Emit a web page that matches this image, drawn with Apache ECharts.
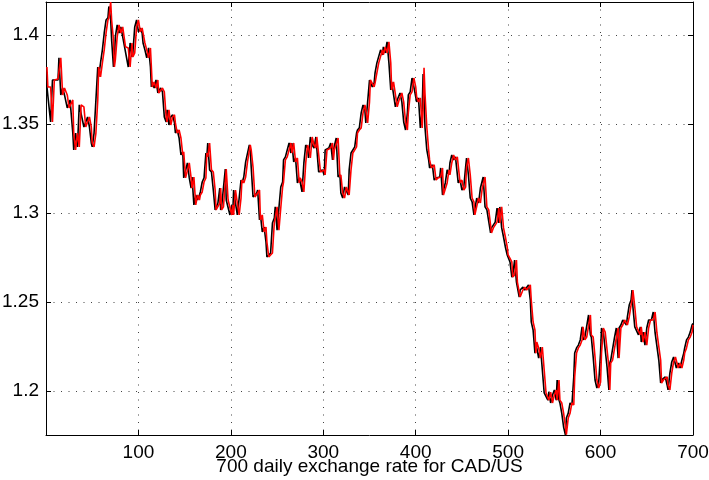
<!DOCTYPE html>
<html>
<head>
<meta charset="utf-8">
<script src="https://cdn.jsdelivr.net/npm/echarts@6/dist/echarts.min.js"></script>
<style>
html,body{margin:0;padding:0;background:#fff;}
#chart{width:709px;height:480px;}
</style>
</head>
<body>
<div id="chart"></div>
<script>
// Day index of each sample
var days = [1,2,5,7,9,13,14,16,18,20,23,25,26,29,30,32,34,36,38,41,43,45,47,49,50,52,54,56,57,59,
61,63,65,67,68,70,71,73,74,75,77,79,81,83,85,86,89,91,93,94,96,98,100,102,104,105,107,109,111,113,
114,115,117,119,121,122,124,126,128,130,131,133,135,137,139,140,142,144,146,148,149,151,153,155,157,158,160,162,164,166,
167,169,171,173,174,175,177,179,181,183,184,186,188,189,190,192,194,195,197,199,201,202,203,205,207,209,211,212,214,216,
218,220,221,222,224,226,228,229,231,232,234,236,238,239,241,243,245,247,248,250,252,254,256,257,259,261,263,265,266,268,
270,272,274,275,277,279,281,283,284,286,288,290,292,293,295,297,299,301,302,304,306,308,310,311,312,314,316,318,319,321,
323,325,327,328,330,332,334,336,337,339,341,343,345,346,348,350,351,353,355,356,358,360,362,364,365,367,369,371,373,374,
376,378,380,382,383,385,387,389,391,392,394,396,398,400,401,403,405,407,408,409,410,412,414,415,417,418,420,422,424,426,
427,429,430,432,434,436,437,439,441,443,445,446,448,450,452,454,455,457,459,461,463,464,466,468,470,472,473,475,477,479,
481,482,484,486,488,490,491,493,495,497,499,500,502,504,505,507,509,510,512,513,516,518,520,522,524,525,527,529,530,531,
533,535,537,539,541,543,544,546,548,550,552,553,555,556,558,560,562,563,565,567,569,571,572,574,576,578,580,581,583,585,
587,589,590,592,594,596,598,600,601,603,605,607,609,610,611,613,615,617,619,620,622,624,626,628,629,631,633,634,635,637,
639,641,643,644,646,648,650,652,654,655,657,659,661,663,665,666,668,670,672,673,675,677,679,681,682,684,686,688,690,691,
693,695,697,699,700];

// Predicted rate (red)
var predicted = [1.3820,1.3708,1.3708,1.3511,1.3747,1.3753,1.3747,1.3871,1.3663,1.3702,1.3663,1.3590,1.3596,1.3635,1.3449,1.3354,1.3449,1.3371,1.3607,1.3596,1.3483,1.3483,1.3539,1.3483,1.3393,1.3371,1.3449,1.3635,1.3820,1.3764,
1.3843,1.3916,1.4011,1.4084,1.4096,1.4185,1.4084,1.3972,1.3820,1.3860,1.3989,1.4056,1.4011,1.4045,1.4056,1.3933,1.3927,1.3820,1.3955,1.3876,1.3899,1.4045,1.4084,1.4017,1.4039,1.4011,1.3955,1.3916,1.3871,1.3927,
1.3820,1.3708,1.3736,1.3702,1.3747,1.3674,1.3663,1.3702,1.3680,1.3539,1.3511,1.3579,1.3494,1.3539,1.3551,1.3506,1.3449,1.3466,1.3421,1.3326,1.3343,1.3197,1.3202,1.3281,1.3197,1.3140,1.3202,1.3045,1.3101,1.3073,
1.3101,1.3118,1.3174,1.3197,1.3337,1.3315,1.3393,1.3242,1.3230,1.3129,1.3017,1.3006,1.3056,1.3140,1.3017,1.3034,1.3034,1.3247,1.3073,1.3084,1.2989,1.3045,1.2989,1.3129,1.3056,1.2989,1.3084,1.3185,1.3169,1.3202,
1.3287,1.3298,1.3382,1.3354,1.3258,1.3090,1.3084,1.3112,1.3129,1.2961,1.2989,1.2893,1.2921,1.2837,1.2753,1.2747,1.2775,1.2944,1.2972,1.3034,1.2904,1.3028,1.3146,1.3174,1.3298,1.3315,1.3315,1.3393,1.3337,1.3393,
1.3287,1.3309,1.3169,1.3197,1.3174,1.3118,1.3281,1.3382,1.3365,1.3309,1.3427,1.3382,1.3365,1.3427,1.3421,1.3230,1.3225,1.3242,1.3214,1.3354,1.3343,1.3365,1.3393,1.3298,1.3354,1.3343,1.3421,1.3202,1.3214,1.3112,
1.3084,1.3146,1.3146,1.3101,1.3242,1.3337,1.3343,1.3371,1.3449,1.3466,1.3478,1.3562,1.3607,1.3579,1.3506,1.3624,1.3747,1.3736,1.3708,1.3730,1.3787,1.3843,1.3848,1.3916,1.3888,1.3933,1.3899,1.3961,1.3843,1.3691,
1.3736,1.3736,1.3596,1.3635,1.3635,1.3674,1.3624,1.3511,1.3466,1.3562,1.3663,1.3680,1.3758,1.3708,1.3652,1.3624,1.3646,1.3478,1.3579,1.3815,1.3674,1.3483,1.3354,1.3298,1.3253,1.3258,1.3270,1.3185,1.3197,1.3197,
1.3202,1.3253,1.3101,1.3090,1.3169,1.3242,1.3214,1.3281,1.3326,1.3298,1.3315,1.3326,1.3169,1.3185,1.3129,1.3146,1.3258,1.3309,1.3214,1.3084,1.3062,1.2989,1.3000,1.3084,1.3056,1.3140,1.3146,1.3202,1.3034,1.3017,
1.3017,1.2888,1.2916,1.2921,1.2949,1.3028,1.2944,1.3034,1.2916,1.2865,1.2809,1.2764,1.2764,1.2725,1.2640,1.2652,1.2736,1.2612,1.2607,1.2528,1.2567,1.2584,1.2567,1.2556,1.2596,1.2511,1.2388,1.2343,1.2213,1.2275,
1.2242,1.2185,1.2247,1.2118,1.1989,1.1978,1.1949,1.1994,1.1933,1.1978,1.2006,1.1949,1.2062,1.1949,1.1933,1.1876,1.1798,1.1755,1.1848,1.1876,1.1933,1.1921,1.2079,1.2213,1.2242,1.2258,1.2287,1.2360,1.2287,1.2303,
1.2298,1.2427,1.2315,1.2303,1.2191,1.2062,1.2017,1.2051,1.2213,1.2354,1.2331,1.2331,1.2135,1.2006,1.2157,1.2174,1.2185,1.2298,1.2354,1.2185,1.2354,1.2371,1.2399,1.2410,1.2371,1.2416,1.2483,1.2511,1.2567,1.2472,
1.2360,1.2371,1.2315,1.2360,1.2275,1.2331,1.2258,1.2354,1.2399,1.2410,1.2399,1.2444,1.2326,1.2315,1.2174,1.2045,1.2062,1.2073,1.2079,1.2034,1.2006,1.2101,1.2163,1.2191,1.2191,1.2129,1.2157,1.2129,1.2174,1.2213,
1.2242,1.2287,1.2303,1.2331,1.2371];

// Actual rate (black), leading the prediction by about a day
var actual = [1.3708,1.3708,1.3511,1.3747,1.3753,1.3747,1.3871,1.3663,1.3702,1.3663,1.3590,1.3596,1.3635,1.3449,1.3354,1.3449,1.3371,1.3607,1.3596,1.3483,1.3483,1.3539,1.3483,1.3393,1.3371,1.3449,1.3635,1.3820,1.3764,1.3843,
1.3916,1.4011,1.4084,1.4096,1.4160,1.4084,1.3972,1.3820,1.3860,1.3989,1.4056,1.4011,1.4045,1.4056,1.3933,1.3927,1.3820,1.3955,1.3876,1.3899,1.4045,1.4084,1.4017,1.4039,1.4011,1.3955,1.3916,1.3871,1.3927,1.3820,
1.3708,1.3736,1.3702,1.3747,1.3674,1.3663,1.3702,1.3680,1.3539,1.3511,1.3579,1.3494,1.3539,1.3551,1.3506,1.3449,1.3466,1.3421,1.3326,1.3343,1.3197,1.3202,1.3281,1.3197,1.3140,1.3202,1.3045,1.3101,1.3073,1.3101,
1.3118,1.3174,1.3197,1.3337,1.3315,1.3393,1.3242,1.3230,1.3129,1.3017,1.3006,1.3056,1.3140,1.3017,1.3034,1.3034,1.3247,1.3073,1.3084,1.2989,1.3045,1.2989,1.3129,1.3056,1.2989,1.3084,1.3185,1.3169,1.3202,1.3287,
1.3298,1.3382,1.3354,1.3258,1.3090,1.3084,1.3112,1.3129,1.2961,1.2989,1.2893,1.2921,1.2837,1.2753,1.2747,1.2775,1.2944,1.2972,1.3034,1.2904,1.3028,1.3146,1.3174,1.3298,1.3315,1.3315,1.3393,1.3337,1.3393,1.3287,
1.3309,1.3169,1.3197,1.3174,1.3118,1.3281,1.3382,1.3365,1.3309,1.3427,1.3382,1.3365,1.3427,1.3421,1.3230,1.3225,1.3242,1.3214,1.3354,1.3343,1.3365,1.3393,1.3298,1.3354,1.3343,1.3421,1.3202,1.3214,1.3112,1.3084,
1.3146,1.3146,1.3101,1.3242,1.3337,1.3343,1.3371,1.3449,1.3466,1.3478,1.3562,1.3607,1.3579,1.3506,1.3624,1.3747,1.3736,1.3708,1.3730,1.3787,1.3843,1.3848,1.3916,1.3888,1.3933,1.3899,1.3961,1.3843,1.3691,1.3736,
1.3736,1.3596,1.3635,1.3635,1.3674,1.3624,1.3511,1.3466,1.3562,1.3663,1.3680,1.3758,1.3708,1.3652,1.3624,1.3646,1.3478,1.3579,1.3780,1.3674,1.3483,1.3354,1.3298,1.3253,1.3258,1.3270,1.3185,1.3197,1.3197,1.3202,
1.3253,1.3101,1.3090,1.3169,1.3242,1.3214,1.3281,1.3326,1.3298,1.3315,1.3326,1.3169,1.3185,1.3129,1.3146,1.3258,1.3309,1.3214,1.3084,1.3062,1.2989,1.3000,1.3084,1.3056,1.3140,1.3146,1.3202,1.3034,1.3017,1.3017,
1.2888,1.2916,1.2921,1.2949,1.3028,1.2944,1.3034,1.2916,1.2865,1.2809,1.2764,1.2764,1.2725,1.2640,1.2652,1.2736,1.2612,1.2607,1.2528,1.2567,1.2584,1.2567,1.2556,1.2596,1.2511,1.2388,1.2343,1.2213,1.2275,1.2242,
1.2185,1.2247,1.2118,1.1989,1.1978,1.1949,1.1994,1.1933,1.1978,1.2006,1.1949,1.2062,1.1949,1.1933,1.1876,1.1798,1.1753,1.1848,1.1876,1.1933,1.1921,1.2079,1.2213,1.2242,1.2258,1.2287,1.2360,1.2287,1.2303,1.2298,
1.2427,1.2315,1.2303,1.2191,1.2062,1.2017,1.2051,1.2213,1.2354,1.2331,1.2331,1.2135,1.2006,1.2157,1.2174,1.2185,1.2298,1.2354,1.2185,1.2354,1.2371,1.2399,1.2410,1.2371,1.2416,1.2483,1.2511,1.2567,1.2472,1.2360,
1.2371,1.2315,1.2360,1.2275,1.2331,1.2258,1.2354,1.2399,1.2410,1.2399,1.2444,1.2326,1.2315,1.2174,1.2045,1.2062,1.2073,1.2079,1.2034,1.2006,1.2101,1.2163,1.2191,1.2191,1.2129,1.2157,1.2129,1.2174,1.2213,1.2242,
1.2287,1.2303,1.2331,1.2371,1.2380];

var xTicks = [100, 200, 300, 400, 500, 600, 700];
var yTicks = [1.2, 1.25, 1.3, 1.35, 1.4];
var xRange = [0, 700];
var yRange = [1.1753, 1.4185];
var xTitle = '700 daily exchange rate for CAD/US';

function pairs(xs, ys) {
  var out = [];
  for (var i = 0; i < xs.length; i++) out.push([xs[i], ys[i]]);
  return out;
}

var FONT = '"Liberation Sans", Arial, Helvetica, sans-serif';
var chart = echarts.init(document.getElementById('chart'), null, {renderer: 'canvas'});
var dotted = {color: '#444', width: 1, type: [1, 6.5]};

chart.setOption({
  animation: false,
  backgroundColor: '#ffffff',
  grid: {left: 46, right: 16, top: 2, bottom: 45, containLabel: false, outerBoundsMode: 'none'},
  xAxis: [{
    type: 'value', min: xRange[0], max: xRange[1],
    axisLine: {show: true, onZero: false, lineStyle: {color: '#000', width: 1}},
    axisTick: {show: true, inside: true, length: 5, customValues: xTicks, lineStyle: {color: '#000'}},
    axisLabel: {show: true, customValues: xTicks, color: '#000', fontSize: 19, fontFamily: FONT, margin: 8},
    splitLine: {show: true, lineStyle: dotted},
    name: xTitle, nameLocation: 'middle', nameGap: 22, nameMoveOverlap: false,
    nameTextStyle: {color: '#000', fontSize: 19, fontFamily: FONT}
  }, {
    type: 'value', position: 'top', min: xRange[0], max: xRange[1],
    axisLine: {show: true, onZero: false, lineStyle: {color: '#000', width: 1}},
    axisTick: {show: true, inside: true, length: 5, customValues: xTicks, lineStyle: {color: '#000'}},
    axisLabel: {show: false},
    splitLine: {show: false}
  }],
  yAxis: [{
    type: 'value', min: yRange[0], max: yRange[1],
    axisLine: {show: true, onZero: false, lineStyle: {color: '#000', width: 1}},
    axisTick: {show: true, inside: true, length: 5, customValues: yTicks, lineStyle: {color: '#000'}},
    axisLabel: {show: true, customValues: yTicks, color: '#000', fontSize: 19, fontFamily: FONT, margin: 7},
    splitLine: {show: true, lineStyle: dotted}
  }, {
    type: 'value', position: 'right', min: yRange[0], max: yRange[1],
    axisLine: {show: true, onZero: false, lineStyle: {color: '#000', width: 1}},
    axisTick: {show: true, inside: true, length: 5, customValues: yTicks, lineStyle: {color: '#000'}},
    axisLabel: {show: false},
    splitLine: {show: false}
  }],
  series: [{
    name: 'actual', type: 'line', xAxisIndex: 0, yAxisIndex: 0,
    data: pairs(days, actual), showSymbol: false, symbol: 'none',
    lineStyle: {color: '#000000', width: 1.6}, z: 2
  }, {
    name: 'predicted', type: 'line', xAxisIndex: 0, yAxisIndex: 0,
    data: pairs(days, predicted), showSymbol: false, symbol: 'none',
    lineStyle: {color: '#ff0000', width: 1.6}, z: 3
  }]
});
</script>
</body>
</html>
